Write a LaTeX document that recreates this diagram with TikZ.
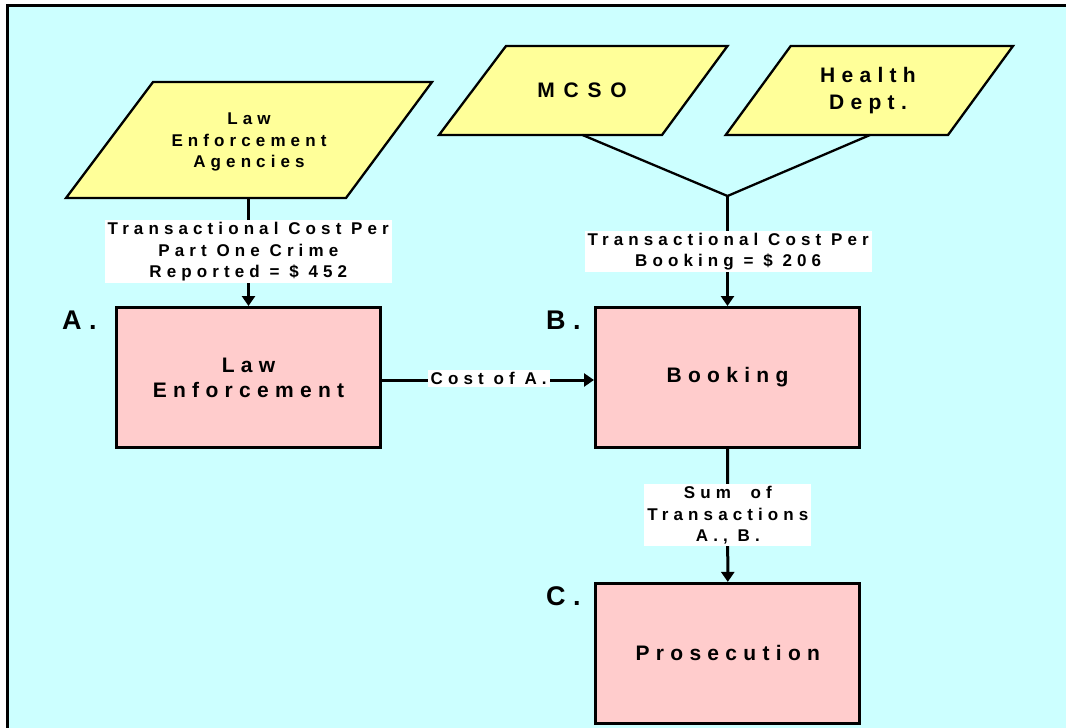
\documentclass[tikz,border=0pt]{standalone}
\usepackage{fontspec}
\setmainfont{Liberation Sans}[LetterSpace=30]
\usetikzlibrary{arrows.meta}
\definecolor{bgc}{HTML}{CCFFFF}
\definecolor{yel}{HTML}{FFFF99}
\definecolor{pnk}{HTML}{FFCCCC}
\begin{document}
\begin{tikzpicture}[x=1pt,y=-1pt,
  para/.style={fill=yel,draw=black,line width=2.3pt,line join=miter},
  box/.style={draw=black,fill=pnk,line width=3pt,minimum width=264pt,minimum height=140pt,inner sep=0pt,font=\fontsize{21}{25}\selectfont\bfseries,align=center},
  ptext/.style={align=center,inner sep=0pt},
  lbl/.style={fill=white,inner xsep=3pt,inner ysep=2pt,align=center,font=\fontsize{17}{21.7}\selectfont\bfseries},
  conn/.style={line width=3pt},
  thin/.style={line width=2.3pt},
  arr/.style={conn,-{Triangle[width=13pt,length=10pt]}},
  tagstyle/.style={font=\fontsize{27}{30}\selectfont\bfseries\addfontfeature{LetterSpace=0},inner sep=0pt,anchor=base west},
]
\useasboundingbox (0,0) rectangle (1066,728);
\fill[white] (0,0) rectangle (1066,728);
\fill[bgc] (7.2,5.3) rectangle (1066,728);
\draw[line width=3pt,line join=miter] (7.2,728) -- (7.2,5.3) -- (1066,5.3);

% parallelograms
\draw[para] (153,82) -- (432,82) -- (346,198) -- (66,198) -- cycle;
\node[ptext,font=\fontsize{17}{21.7}\selectfont\bfseries] (lea) at (249,142) {Law\\Enforcement\\Agencies};
\draw[para] (506,46) -- (727.5,46) -- (662,135) -- (439,135) -- cycle;
\node[ptext,font=\fontsize{21}{27}\selectfont\bfseries\addfontfeature{LetterSpace=42}] (mcso) at (582,90) {MCSO};
\draw[para] (790.7,46) -- (1013,46) -- (948,135) -- (725.7,135) -- cycle;
\node[ptext,font=\fontsize{21}{27.4}\selectfont\bfseries] (health) at (868,90.5) {Health\\Dept.};

\coordinate (leab) at (248.5,198);
\coordinate (mcsob) at (582.5,135);
\coordinate (healthb) at (870,135);
\coordinate (junc) at (727.5,196);

% boxes
\node[box] (A) at (248.5,377.5) {Law\\Enforcement};
\node[box] (B) at (727.5,377.5) {Booking};
\node[box] (C) at (727.8,653.4) {Prosecution};

\node[tagstyle] (ta) at (62,329) {A .};
\node[tagstyle] (tb) at (546,329) {B .};
\node[tagstyle] (tc) at (546,605) {C .};

% connectors
\draw[arr] (leab) -- (A.north);
\node[lbl] (l1) at (248.3,251.8) {Transactional Cost Per\\Part One Crime\\Reported = \$ 452};

\draw[thin] (mcsob) -- (junc);
\draw[thin] (healthb) -- (junc);
\draw[arr] (junc) -- (B.north);
\node[lbl] (l2) at (728.2,251.5) {Transactional Cost Per\\Booking = \$ 206};

\draw[arr] ([yshift=-2.5pt]A.east) -- ([yshift=-2.5pt]B.west);
\node[lbl] (l3) at (488.7,378.5) {Cost of A.};

\draw[arr] (B.south) -- (C.north);
\node[lbl] (l4) at (727.9,515.3) {Sum\ \ of\\Transactions\\A., B.};
\end{tikzpicture}
\end{document}
